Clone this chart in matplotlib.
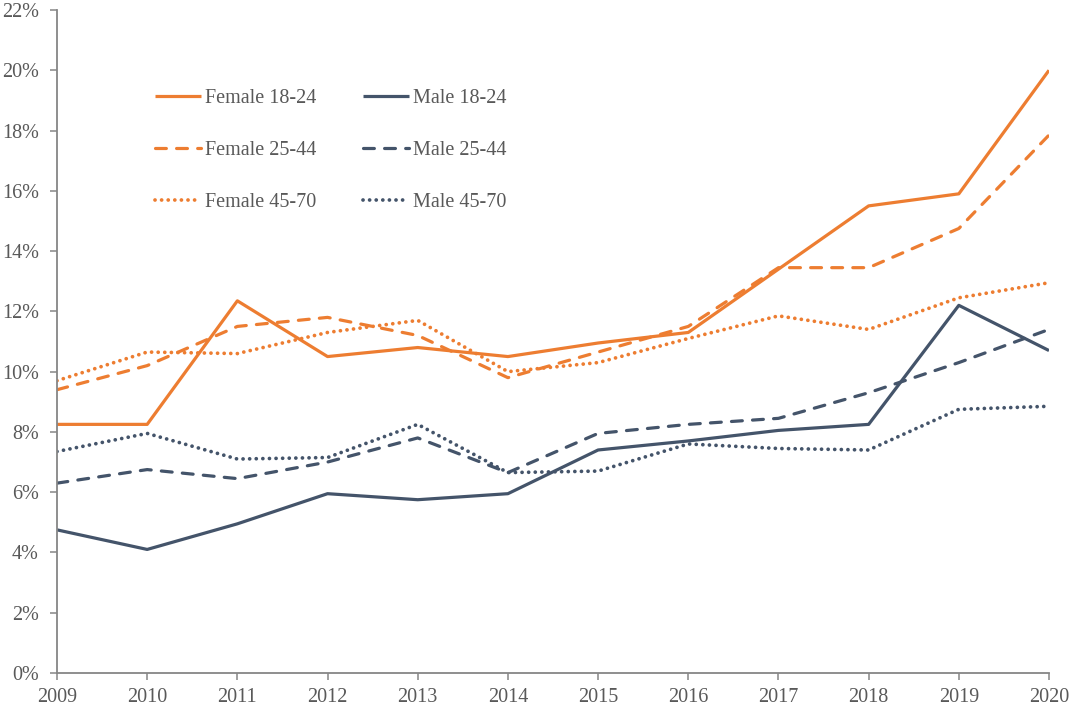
import matplotlib
matplotlib.use("Agg")
import matplotlib.pyplot as plt
from matplotlib.ticker import FuncFormatter, MultipleLocator

years = list(range(2009, 2021))
female_18_24 = [8.25, 8.25, 12.35, 10.5, 10.8, 10.5, 10.95, 11.3, 13.4, 15.5, 15.9, 20.0]
female_25_44 = [9.4, 10.2, 11.5, 11.8, 11.2, 9.8, 10.65, 11.5, 13.45, 13.45, 14.75, 17.85]
female_45_70 = [9.7, 10.65, 10.6, 11.3, 11.7, 10.0, 10.3, 11.1, 11.85, 11.4, 12.45, 12.95]
male_18_24 = [4.75, 4.1, 4.95, 5.95, 5.75, 5.95, 7.4, 7.7, 8.05, 8.25, 12.2, 10.7]
male_25_44 = [6.3, 6.75, 6.45, 7.0, 7.8, 6.65, 7.95, 8.25, 8.45, 9.3, 10.3, 11.4]
male_45_70 = [7.35, 7.95, 7.1, 7.15, 8.25, 6.65, 6.7, 7.6, 7.45, 7.4, 8.75, 8.85]

ORANGE = "#ED7D31"
NAVY = "#44546A"
TEXT = "#595959"
AXIS = "#868686"

plt.rcParams['font.family'] = ['Liberation Serif', 'DejaVu Serif']

fig = plt.figure(figsize=(10.8, 7.25), dpi=100)
ax = fig.add_axes([57/1080, 52/725, (1049-57)/1080, (673-10)/725])

lw = 2.3
solid = dict(linewidth=lw, solid_capstyle='butt')
dashed = dict(linewidth=lw, linestyle=(0, (3.4, 3.2)), dash_capstyle='round')
dotted = dict(linewidth=2.7, linestyle=(0, (0.01, 1.75)), dash_capstyle='round')

ax.plot(years, female_18_24, color=ORANGE, label="Female 18-24", **solid)
ax.plot(years, female_25_44, color=ORANGE, label="Female 25-44", **dashed)
ax.plot(years, female_45_70, color=ORANGE, label="Female 45-70", **dotted)
ax.plot(years, male_18_24, color=NAVY, label="Male 18-24", **solid)
ax.plot(years, male_25_44, color=NAVY, label="Male 25-44", **dashed)
ax.plot(years, male_45_70, color=NAVY, label="Male 45-70", **dotted)

ax.set_xlim(2009, 2020)
ax.set_ylim(0, 22)
ax.set_xticks(years)
ax.yaxis.set_major_locator(MultipleLocator(2))
ax.yaxis.set_major_formatter(FuncFormatter(lambda v, p: f"{v:.0f}%"))

for s in ['top', 'right']:
    ax.spines[s].set_visible(False)
for s in ['left', 'bottom']:
    ax.spines[s].set_color(AXIS)
    ax.spines[s].set_linewidth(1.3)

ax.tick_params(axis='both', direction='out', length=5, width=1.1, color=AXIS,
               labelcolor=TEXT, labelsize=14.5)
ax.tick_params(axis='y', pad=8)
ax.tick_params(axis='x', pad=6)

leg = ax.legend(ncol=2, frameon=False, loc='upper left',
                bbox_to_anchor=(155/1080, (725-89)/725), bbox_transform=fig.transFigure,
                borderpad=0, borderaxespad=0, handlelength=2.3, handletextpad=0.2,
                columnspacing=2.3, labelspacing=1.63, fontsize=14.5)
for t in leg.get_texts():
    t.set_color(TEXT)

fig.savefig("out.png", dpi=100, facecolor="white")
